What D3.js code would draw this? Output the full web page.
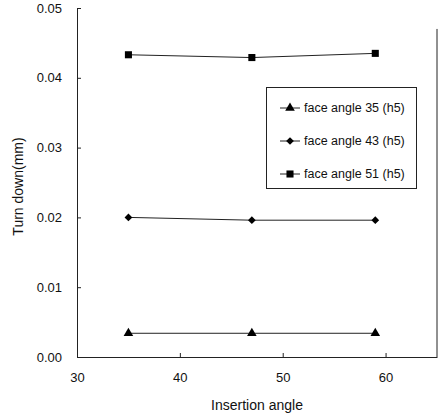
<!DOCTYPE html>
<html>
<head>
<meta charset="utf-8">
<script src="https://cdn.jsdelivr.net/npm/d3@7"></script>
<style>
  html, body { margin: 0; padding: 0; background: #fff; }
  svg { display: block; font-family: "Liberation Sans", Arial, sans-serif; }
</style>
</head>
<body>
<div id="chart"></div>
<script>
"use strict";

// Data
const insertionAngles = [35, 47, 59];
const seriesNames = ["face angle 35 (h5)", "face angle 43 (h5)", "face angle 51 (h5)"];
const seriesShapes = ["triangle", "diamond", "square"];
const face35 = [0.0034, 0.0034, 0.0034];
const face43 = [0.0200, 0.0196, 0.0196];
const face51 = [0.0433, 0.0429, 0.0435];
const xTicks = [30, 40, 50, 60];
const yTicks = [0, 0.01, 0.02, 0.03, 0.04, 0.05];

const W = 443, H = 416;
const margin = { left: 77, top: 8, right: 5, bottom: 59 };

const x = d3.scaleLinear().domain([30, 65]).range([margin.left, W - margin.right - 1]);
const y = d3.scaleLinear().domain([0, 0.05]).range([H - margin.bottom, margin.top]);

const svg = d3.select("#chart").append("svg")
  .attr("width", W).attr("height", H);

// Right border of plot
svg.append("line")
  .attr("x1", x(65)).attr("x2", x(65))
  .attr("y1", y(0.047)).attr("y2", y(0))
  .attr("stroke", "#222").attr("stroke-width", 1);

// Axes with inward ticks
const xAxis = svg.append("g")
  .attr("transform", `translate(0,${y(0)})`)
  .call(d3.axisBottom(x).tickValues(xTicks).tickSizeInner(-4).tickSizeOuter(0).tickPadding(16));
const yAxis = svg.append("g")
  .attr("transform", `translate(${x(30)},0)`)
  .call(d3.axisLeft(y).tickValues(yTicks).tickFormat(d3.format(".2f")).tickSizeInner(-4).tickSizeOuter(0).tickPadding(15));

[xAxis, yAxis].forEach((g) => {
  g.select(".domain").attr("stroke", "#222");
  g.selectAll(".tick line").attr("stroke", "#222");
  g.selectAll(".tick text").attr("font-size", 13).attr("fill", "#111");
});

// Axis titles
svg.append("text")
  .attr("x", (x(30) + x(65)) / 2).attr("y", 410)
  .attr("text-anchor", "middle").attr("font-size", 14).attr("fill", "#111")
  .text("Insertion angle");
svg.append("text")
  .attr("transform", `translate(23,${(y(0) + y(0.05)) / 2 + 4}) rotate(-90)`)
  .attr("text-anchor", "middle").attr("font-size", 14).attr("fill", "#111")
  .text("Turn down(mm)");

const symbolFor = {
  triangle: { gen: d3.symbol().type(d3.symbolTriangle).size(40), rot: 0 },
  diamond: { gen: d3.symbol().type(d3.symbolSquare).size(30), rot: 45 },
  square: { gen: d3.symbol().type(d3.symbolSquare).size(50), rot: 0 }
};

const allSeries = [face35, face43, face51];
const line = d3.line().x((d, i) => x(insertionAngles[i])).y((d) => y(d));

allSeries.forEach((vals, si) => {
  const sym = symbolFor[seriesShapes[si]];
  svg.append("path")
    .attr("d", line(vals))
    .attr("fill", "none").attr("stroke", "#222").attr("stroke-width", 1);
  svg.selectAll(null).data(vals).enter().append("path")
    .attr("transform", (d, i) => `translate(${x(insertionAngles[i])},${y(d)}) rotate(${sym.rot})`)
    .attr("d", sym.gen())
    .attr("fill", "#000");
});

// Legend
const lg = svg.append("g").attr("transform", "translate(266,87)");
lg.append("rect")
  .attr("x", 0.5).attr("y", 0.5).attr("width", 150).attr("height", 101)
  .attr("fill", "#fff").attr("stroke", "#222");
seriesNames.forEach((name, i) => {
  const ly = 21 + i * 33;
  const sym = symbolFor[seriesShapes[i]];
  lg.append("line").attr("x1", 14).attr("x2", 34).attr("y1", ly).attr("y2", ly)
    .attr("stroke", "#222");
  lg.append("path")
    .attr("transform", `translate(24,${ly}) rotate(${sym.rot})`)
    .attr("d", sym.gen())
    .attr("fill", "#000");
  lg.append("text")
    .attr("x", 38).attr("y", ly + 4)
    .attr("font-size", 12.5).attr("fill", "#111")
    .text(name);
});
</script>
</body>
</html>
